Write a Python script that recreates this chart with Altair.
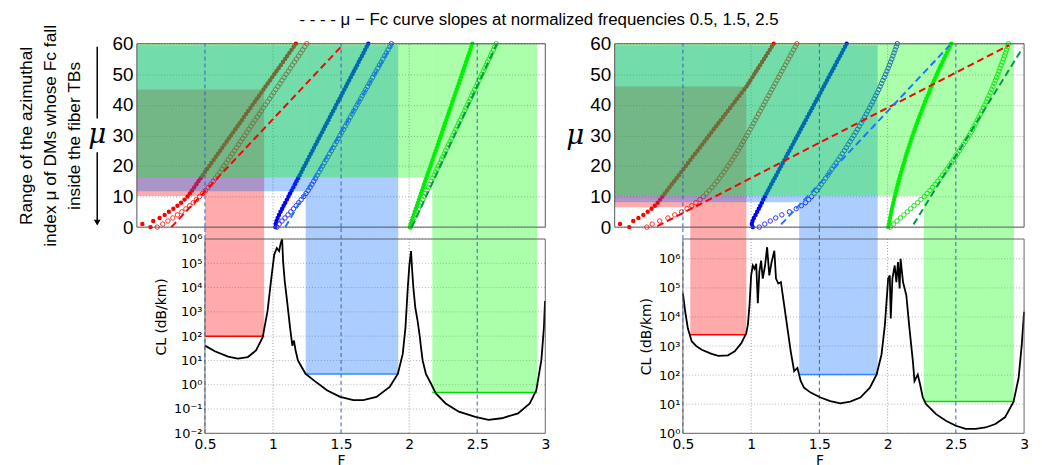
import altair as alt
import pandas as pd

MU = list(range(61))

# ---------------- mu - F curves (F value for mu = 0..60) ----------------
L_RED_FILLED = [0.100, 0.040, 0.120, 0.167, 0.204, 0.235, 0.268, 0.298, 0.325, 0.350, 0.373, 0.389, 0.405, 0.421, 0.437, 0.452, 0.468, 0.484, 0.500, 0.516, 0.532, 0.548, 0.564, 0.580, 0.596, 0.612, 0.627, 0.643, 0.659, 0.675, 0.691, 0.707, 0.723, 0.739, 0.755, 0.771, 0.786, 0.802, 0.818, 0.834, 0.850, 0.866, 0.882, 0.898, 0.914, 0.930, 0.945, 0.961, 0.977, 0.993, 1.009, 1.025, 1.041, 1.057, 1.073, 1.089, 1.104, 1.120, 1.136, 1.152, 1.168]
L_RED_OPEN = [0.150, 0.190, 0.228, 0.264, 0.298, 0.330, 0.360, 0.388, 0.414, 0.438, 0.461, 0.483, 0.504, 0.524, 0.543, 0.561, 0.578, 0.594, 0.610, 0.625, 0.640, 0.656, 0.671, 0.686, 0.701, 0.716, 0.732, 0.747, 0.762, 0.777, 0.792, 0.808, 0.823, 0.838, 0.853, 0.868, 0.884, 0.899, 0.914, 0.929, 0.944, 0.960, 0.975, 0.990, 1.005, 1.020, 1.036, 1.051, 1.066, 1.081, 1.096, 1.112, 1.127, 1.142, 1.157, 1.172, 1.188, 1.203, 1.218, 1.233, 1.248]
L_BLUE_FILLED = [1.017, 1.020, 1.026, 1.034, 1.044, 1.055, 1.067, 1.078, 1.090, 1.102, 1.114, 1.125, 1.137, 1.149, 1.161, 1.172, 1.184, 1.196, 1.208, 1.219, 1.231, 1.243, 1.254, 1.266, 1.278, 1.290, 1.301, 1.313, 1.325, 1.336, 1.348, 1.360, 1.372, 1.383, 1.395, 1.407, 1.418, 1.430, 1.442, 1.454, 1.465, 1.477, 1.489, 1.501, 1.512, 1.524, 1.536, 1.547, 1.559, 1.571, 1.583, 1.594, 1.606, 1.618, 1.629, 1.641, 1.653, 1.665, 1.676, 1.688, 1.700]
L_BLUE_OPEN = [1.029, 1.045, 1.066, 1.088, 1.110, 1.131, 1.151, 1.170, 1.189, 1.207, 1.225, 1.242, 1.258, 1.272, 1.286, 1.299, 1.312, 1.325, 1.338, 1.351, 1.364, 1.377, 1.390, 1.403, 1.416, 1.429, 1.442, 1.455, 1.467, 1.480, 1.492, 1.505, 1.518, 1.530, 1.543, 1.555, 1.568, 1.581, 1.593, 1.606, 1.618, 1.631, 1.644, 1.656, 1.669, 1.681, 1.694, 1.707, 1.719, 1.732, 1.744, 1.757, 1.770, 1.782, 1.795, 1.807, 1.820, 1.833, 1.845, 1.858, 1.870]
L_GREEN_FILLED = [2.008, 2.012, 2.018, 2.026, 2.033, 2.041, 2.049, 2.057, 2.064, 2.072, 2.080, 2.087, 2.095, 2.103, 2.110, 2.118, 2.126, 2.134, 2.141, 2.149, 2.157, 2.164, 2.172, 2.180, 2.187, 2.195, 2.203, 2.211, 2.218, 2.226, 2.234, 2.241, 2.249, 2.257, 2.264, 2.272, 2.280, 2.288, 2.295, 2.303, 2.311, 2.318, 2.326, 2.334, 2.341, 2.349, 2.357, 2.365, 2.372, 2.380, 2.388, 2.395, 2.403, 2.411, 2.418, 2.426, 2.434, 2.442, 2.449, 2.457, 2.465]
L_GREEN_OPEN = [2.008, 2.015, 2.025, 2.036, 2.047, 2.057, 2.068, 2.078, 2.089, 2.099, 2.110, 2.121, 2.131, 2.142, 2.152, 2.163, 2.174, 2.184, 2.195, 2.205, 2.216, 2.227, 2.237, 2.248, 2.258, 2.269, 2.280, 2.290, 2.301, 2.311, 2.322, 2.333, 2.343, 2.354, 2.364, 2.375, 2.386, 2.396, 2.407, 2.417, 2.428, 2.439, 2.449, 2.460, 2.470, 2.481, 2.492, 2.502, 2.513, 2.523, 2.534, 2.545, 2.555, 2.566, 2.576, 2.587, 2.598, 2.608, 2.619, 2.629, 2.640]

R_RED_FILLED = [0.107, 0.039, 0.136, 0.174, 0.210, 0.242, 0.270, 0.294, 0.315, 0.333, 0.350, 0.367, 0.384, 0.401, 0.418, 0.436, 0.453, 0.470, 0.487, 0.504, 0.521, 0.538, 0.555, 0.572, 0.589, 0.607, 0.624, 0.641, 0.658, 0.675, 0.692, 0.709, 0.726, 0.743, 0.760, 0.778, 0.795, 0.812, 0.829, 0.846, 0.863, 0.880, 0.897, 0.914, 0.931, 0.949, 0.966, 0.980, 0.994, 1.009, 1.023, 1.037, 1.051, 1.065, 1.080, 1.094, 1.108, 1.122, 1.137, 1.151, 1.165]
R_RED_OPEN = [0.235, 0.275, 0.330, 0.390, 0.440, 0.490, 0.530, 0.565, 0.595, 0.625, 0.650, 0.672, 0.693, 0.713, 0.732, 0.750, 0.767, 0.784, 0.800, 0.816, 0.831, 0.846, 0.861, 0.875, 0.889, 0.903, 0.917, 0.930, 0.943, 0.956, 0.969, 0.981, 0.993, 1.006, 1.018, 1.030, 1.042, 1.054, 1.067, 1.079, 1.091, 1.103, 1.115, 1.128, 1.140, 1.152, 1.164, 1.176, 1.189, 1.201, 1.213, 1.225, 1.237, 1.250, 1.262, 1.274, 1.286, 1.298, 1.311, 1.323, 1.335]
R_BLUE_FILLED = [1.012, 1.005, 1.010, 1.020, 1.032, 1.044, 1.056, 1.067, 1.078, 1.089, 1.100, 1.112, 1.124, 1.136, 1.148, 1.160, 1.172, 1.184, 1.196, 1.208, 1.220, 1.232, 1.244, 1.256, 1.268, 1.280, 1.292, 1.304, 1.316, 1.328, 1.340, 1.352, 1.364, 1.376, 1.388, 1.400, 1.412, 1.424, 1.436, 1.448, 1.460, 1.472, 1.484, 1.496, 1.508, 1.520, 1.532, 1.544, 1.556, 1.568, 1.580, 1.592, 1.604, 1.616, 1.628, 1.640, 1.652, 1.664, 1.676, 1.688, 1.700]
R_BLUE_OPEN = [1.060, 1.100, 1.140, 1.180, 1.225, 1.280, 1.330, 1.368, 1.398, 1.422, 1.443, 1.462, 1.480, 1.497, 1.514, 1.530, 1.546, 1.562, 1.577, 1.592, 1.607, 1.623, 1.638, 1.653, 1.668, 1.683, 1.697, 1.711, 1.725, 1.739, 1.753, 1.767, 1.780, 1.793, 1.806, 1.819, 1.831, 1.843, 1.855, 1.867, 1.879, 1.891, 1.902, 1.913, 1.924, 1.935, 1.945, 1.955, 1.965, 1.975, 1.985, 1.995, 2.004, 2.013, 2.022, 2.031, 2.039, 2.047, 2.055, 2.063, 2.071]
R_GREEN_FILLED = [2.005, 2.009, 2.014, 2.018, 2.023, 2.027, 2.032, 2.037, 2.042, 2.048, 2.053, 2.058, 2.064, 2.069, 2.075, 2.081, 2.087, 2.093, 2.099, 2.106, 2.112, 2.119, 2.126, 2.132, 2.139, 2.146, 2.154, 2.161, 2.168, 2.176, 2.183, 2.191, 2.199, 2.207, 2.215, 2.223, 2.232, 2.240, 2.249, 2.257, 2.266, 2.275, 2.284, 2.293, 2.303, 2.312, 2.322, 2.331, 2.341, 2.351, 2.361, 2.371, 2.381, 2.391, 2.402, 2.412, 2.423, 2.434, 2.445, 2.456, 2.467]
R_GREEN_OPEN = [2.019, 2.044, 2.069, 2.094, 2.119, 2.144, 2.169, 2.194, 2.219, 2.244, 2.269, 2.290, 2.310, 2.330, 2.349, 2.368, 2.386, 2.403, 2.420, 2.436, 2.452, 2.467, 2.482, 2.497, 2.511, 2.526, 2.540, 2.555, 2.569, 2.583, 2.597, 2.610, 2.622, 2.634, 2.646, 2.658, 2.669, 2.680, 2.691, 2.702, 2.713, 2.723, 2.733, 2.743, 2.753, 2.763, 2.772, 2.781, 2.790, 2.799, 2.808, 2.816, 2.824, 2.832, 2.840, 2.848, 2.856, 2.864, 2.871, 2.878, 2.886]

# tangent (slope) lines: start / end points
L_TAN_F0 = [0.253, 1.09, 2.02]
L_TAN_MU0 = [0.0, 0.0, 0.0]
L_TAN_F1 = [1.508, 1.88, 2.645]
L_TAN_MU1 = [59.4, 60.0, 60.0]
R_TAN_F0 = [0.312, 1.22, 2.19]
R_TAN_MU0 = [0.3, 0.9, 0.9]
R_TAN_F1 = [2.89, 2.455, 2.99]
R_TAN_MU1 = [59.5, 59.5, 58.7]

# transmission bands
L_BAND_LO = [0.5, 1.24, 2.17]
L_BAND_HI = [0.935, 1.92, 2.94]
L_MU_LO = [10.2, 11.7, 16.2]
L_MU_HI = [45.0, 59.5, 60.0]
L_CL_LEVEL = [100.0, 2.75, 0.48]

R_BAND_LO = [0.554, 1.352, 2.265]
R_BAND_HI = [0.965, 1.927, 2.925]
R_MU_LO = [6.5, 8.1, 10.2]
R_MU_HI = [46.0, 59.5, 60.0]
R_CL_LEVEL = [2450.0, 105.0, 12.3]

# confinement loss curves (log10 of dB/km)
L_CL_F = [0.5, 0.573, 0.67, 0.742, 0.815, 0.875, 0.924, 0.96, 0.985, 1.009, 1.028, 1.045, 1.057, 1.067, 1.074, 1.086, 1.106, 1.125, 1.142, 1.154, 1.166, 1.183, 1.203, 1.239, 1.30, 1.396, 1.493, 1.59, 1.663, 1.76, 1.857, 1.917, 1.953, 1.973, 1.99, 2.002, 2.014, 2.021, 2.031, 2.045, 2.062, 2.079, 2.087, 2.099, 2.123, 2.16, 2.196, 2.268, 2.365, 2.486, 2.583, 2.68, 2.80, 2.886, 2.934, 2.971, 2.99, 2.998]
L_CL_LOG10 = [1.61, 1.38, 1.16, 1.08, 1.14, 1.41, 1.95, 3.04, 4.27, 5.36, 5.63, 5.50, 5.84, 6.0, 5.09, 4.27, 3.32, 2.36, 1.61, 1.82, 1.41, 1.0, 0.80, 0.45, 0.18, -0.23, -0.50, -0.63, -0.63, -0.50, -0.09, 0.45, 1.27, 2.36, 4.0, 4.95, 5.50, 4.81, 4.0, 3.18, 2.63, 1.95, 1.54, 1.0, 0.45, 0.05, -0.36, -0.77, -1.11, -1.32, -1.45, -1.38, -1.18, -0.77, -0.23, 1.0, 2.36, 3.45]
R_CL_F = [0.5, 0.517, 0.536, 0.565, 0.60, 0.638, 0.71, 0.76, 0.83, 0.88, 0.928, 0.964, 0.976, 0.988, 1.0, 1.012, 1.025, 1.037, 1.049, 1.06, 1.073, 1.085, 1.102, 1.117, 1.133, 1.15, 1.17, 1.182, 1.199, 1.218, 1.242, 1.266, 1.29, 1.315, 1.339, 1.363, 1.387, 1.436, 1.508, 1.58, 1.653, 1.726, 1.80, 1.87, 1.919, 1.955, 1.98, 2.004, 2.016, 2.023, 2.035, 2.052, 2.064, 2.076, 2.088, 2.095, 2.113, 2.137, 2.16, 2.185, 2.197, 2.221, 2.238, 2.258, 2.282, 2.355, 2.427, 2.50, 2.572, 2.645, 2.717, 2.79, 2.86, 2.923, 2.96, 2.983, 3.0]
R_CL_LOG10 = [4.81, 4.18, 3.61, 3.16, 2.99, 2.875, 2.73, 2.66, 2.68, 2.82, 3.10, 3.44, 3.73, 4.41, 5.43, 5.77, 5.66, 5.83, 4.47, 5.55, 5.94, 5.32, 5.77, 6.40, 5.43, 5.89, 6.28, 5.32, 5.15, 5.20, 4.41, 3.61, 2.82, 2.14, 2.25, 1.80, 1.57, 1.40, 1.23, 1.11, 1.03, 1.09, 1.23, 1.57, 2.02, 2.70, 3.73, 5.32, 5.43, 3.95, 5.32, 5.77, 5.20, 5.89, 4.98, 6.0, 5.20, 4.75, 3.61, 2.48, 1.80, 2.02, 1.68, 1.23, 1.0, 0.66, 0.43, 0.26, 0.15, 0.15, 0.20, 0.32, 0.55, 1.09, 1.91, 3.05, 4.18]

GRID_F = [1.0, 2.0]
VLINE_F = [0.5, 1.5, 2.5]
MU_TICKS = [0, 10, 20, 30, 40, 50, 60]
L_DECADES = [1e-2, 1e-1, 1e0, 1e1, 1e2, 1e3, 1e4, 1e5, 1e6]
R_DECADES = [1e0, 1e1, 1e2, 1e3, 1e4, 1e5, 1e6]
F_TICKS = [0.5, 1, 1.5, 2, 2.5, 3]

SERIES = ["TB1", "TB2", "TB3"]
FILLED_COLORS = ["#ff0000", "#0000ff", "#00ee00"]
OPEN_COLORS = ["#ff3030", "#3030ff", "#22dd22"]
TAN_COLORS = ["#ff0000", "#1a78ff", "#009a4a"]
BAND_COLORS = ["#ff0000", "#0066ff", "#00ff00"]
LEVEL_COLORS = ["#ff0000", "#3388ff", "#00dd00"]
BAND_OPACITY = 0.33
FONT = "Liberation Sans"
AXFONT = "DejaVu Sans"
GAP = 12
TOP_W, TOP_H, BOT_H = 412, 185, 196

SUP = ("'10' + (datum.value < 0.9 ? '⁻' : '') + "
       "['⁰','¹','²','³','⁴','⁵','⁶','⁷','⁸','⁹'][round(abs(log(datum.value)/LN10))]")


def cscale(rng):
    return alt.Scale(domain=SERIES, range=rng)


def top_panel(filled, opened, tan, lo, hi, mulo, muhi, width, yaxis, extras=()):
    xs = alt.Scale(domain=[0, 3], nice=False, zero=False)
    ys = alt.Scale(domain=[0, 60], nice=False, zero=False)

    def X(f):
        return alt.X(f, type="quantitative", scale=xs, axis=None)

    def Y(f):
        return alt.Y(f, type="quantitative", scale=ys, axis=yaxis)

    fill_rows, open_rows = [], []
    for s, fl, op in zip(SERIES, filled, opened):
        fill_rows += [dict(F=f, mu=m, series=s) for m, f in zip(MU, fl)]
        open_rows += [dict(F=f, mu=m, series=s) for m, f in zip(MU, op)]
    rect_rows = []
    for s, a, b, m0, m1 in zip(SERIES, lo, hi, mulo, muhi):
        rect_rows.append(dict(x1=0.0, x2=a, y1=m0, y2=m1, series=s))
        rect_rows.append(dict(x1=a, x2=b, y1=0.0, y2=m1, series=s))
    tan_df = pd.DataFrame(dict(F0=tan[0], mu0=tan[1], F1=tan[2], mu1=tan[3], series=SERIES))

    grid_v = alt.Chart(pd.DataFrame({"F": GRID_F, "m": [0.0, 0.0], "n": [60.0, 60.0]})).mark_rule(
        color="#9a9a9a", strokeDash=[1, 2], strokeWidth=1).encode(x=X("F"), y=Y("m"), y2="n")
    pts_f = alt.Chart(pd.DataFrame(fill_rows)).mark_circle(size=20, opacity=1).encode(
        x=X("F"), y=Y("mu"),
        color=alt.Color("series:N", scale=cscale(FILLED_COLORS), legend=None))
    pts_o = alt.Chart(pd.DataFrame(open_rows)).mark_point(
        shape="circle", filled=False, size=20, strokeWidth=1, opacity=1).encode(
        x=X("F"), y=Y("mu"),
        color=alt.Color("series:N", scale=cscale(OPEN_COLORS), legend=None))
    rects = alt.Chart(pd.DataFrame(rect_rows)).mark_rect(opacity=BAND_OPACITY).encode(
        x=X("x1"), x2="x2", y=Y("y1"), y2="y2",
        color=alt.Color("series:N", scale=cscale(BAND_COLORS), legend=None))
    vl = alt.Chart(pd.DataFrame({"F": VLINE_F, "m": [0.0] * 3, "n": [60.0] * 3})).mark_rule(
        color="#3a5bc7", strokeDash=[4, 3], strokeWidth=1).encode(x=X("F"), y=Y("m"), y2="n")
    tl = alt.Chart(tan_df).mark_rule(strokeDash=[7, 4], strokeWidth=2).encode(
        x=X("F0"), y=Y("mu0"), x2="F1", y2="mu1",
        color=alt.Color("series:N", scale=cscale(TAN_COLORS), legend=None))
    frame = alt.Chart(pd.DataFrame({"a": [0.0], "b": [3.0], "c": [0.0], "d": [60.0]})).mark_rect(
        fillOpacity=0, stroke="#555555", strokeWidth=1).encode(x=X("a"), x2="b", y=Y("c"), y2="d")
    layers = [grid_v, pts_f, pts_o, rects, vl, tl, frame] + [e(X, Y) for e in extras]
    return alt.layer(*layers).resolve_scale(color="independent").properties(
        width=width, height=TOP_H)


def bottom_panel(cl_f, cl_log, lo, hi, level, ydomain, decades, width, title_y):
    xs = alt.Scale(domain=[0, 3], nice=False, zero=False)
    ys = alt.Scale(type="log", domain=ydomain, nice=False)
    offset = -width * 0.5 / 3.0

    xaxis = alt.Axis(values=F_TICKS, labelExpr="'' + datum.value", title="F",
                     domain=False, ticks=False, grid=False, labelFlush=False,
                     labelFont=AXFONT, labelFontSize=14, labelColor="black", labelPadding=4,
                     titleFont=AXFONT, titleFontSize=14, titleFontWeight="normal",
                     titleColor="black", titlePadding=2)
    yaxis = alt.Axis(values=decades, labelExpr=SUP, offset=offset, title="CL (dB/km)",
                     domain=False, ticks=False, grid=False, labelOverlap=False,
                     labelFont=AXFONT, labelFontSize=13, labelColor="black", labelPadding=3,
                     titleFont=AXFONT, titleFontSize=14, titleFontWeight="normal",
                     titleColor="black", titlePadding=5, titleY=title_y)

    def X(f):
        return alt.X(f, type="quantitative", scale=xs, axis=xaxis)

    def Y(f):
        return alt.Y(f, type="quantitative", scale=ys, axis=yaxis)

    band_df = pd.DataFrame(dict(lo=lo, hi=hi, level=level, series=SERIES))
    hgrid = alt.Chart(pd.DataFrame({"v": decades, "a": [0.5] * len(decades),
                                    "b": [3.0] * len(decades)})).mark_rule(
        color="#b5b5b5", strokeDash=[1, 2], strokeWidth=1).encode(x=X("a"), x2="b", y=Y("v"))
    vgrid = alt.Chart(pd.DataFrame({"F": GRID_F, "m": [ydomain[0]] * 2, "n": [ydomain[1]] * 2})).mark_rule(
        color="#9a9a9a", strokeDash=[1, 2], strokeWidth=1).encode(x=X("F"), y=Y("m"), y2="n")
    bands = alt.Chart(band_df).mark_rect(opacity=BAND_OPACITY).encode(
        x=X("lo"), x2="hi", y=Y("level"), y2=alt.value(-GAP),
        color=alt.Color("series:N", scale=cscale(BAND_COLORS), legend=None))
    levels = alt.Chart(band_df).mark_rule(strokeWidth=1.5).encode(
        x=X("lo"), x2="hi", y=Y("level"),
        color=alt.Color("series:N", scale=cscale(LEVEL_COLORS), legend=None))
    vl = alt.Chart(pd.DataFrame({"F": VLINE_F, "m": [ydomain[0]] * 3})).mark_rule(
        color="#3a5bc7", strokeDash=[4, 3], strokeWidth=1).encode(
        x=X("F"), y=Y("m"), y2=alt.value(-GAP))
    cl_df = pd.DataFrame({"F": cl_f, "CL": [10 ** v for v in cl_log]})
    curve = alt.Chart(cl_df).mark_line(color="black", strokeWidth=1.8).encode(
        x=X("F"), y=Y("CL"))
    frame = alt.Chart(pd.DataFrame({"a": [0.5], "b": [3.0], "c": [ydomain[0]], "d": [ydomain[1]]})).mark_rect(
        fillOpacity=0, stroke="#666666", strokeWidth=1).encode(x=X("a"), x2="b", y=Y("c"), y2="d")
    return alt.layer(hgrid, vgrid, bands, levels, vl, curve, frame).resolve_scale(
        color="independent").properties(width=width, height=BOT_H)


# annotation for the left panel: arrow with mu
ARROW_MU0 = [59.0, 24.5]
ARROW_MU1 = [35.5, 2.0]


def arrow_lines(X, Y):
    return alt.Chart(pd.DataFrame({"a": ARROW_MU0, "b": ARROW_MU1})).mark_rule(
        color="black", strokeWidth=1.5).encode(x=alt.value(-40), y=Y("a"), y2="b")


def arrow_head(X, Y):
    return alt.Chart(pd.DataFrame({"m": [1.5]})).mark_point(
        shape="triangle-down", filled=True, color="black", size=45, opacity=1).encode(
        x=alt.value(-40), y=Y("m"))


def arrow_mu(X, Y):
    return alt.Chart(pd.DataFrame({"m": [30.0], "t": ["μ"]})).mark_text(
        font="DejaVu Serif", fontStyle="italic", fontSize=28, color="black").encode(
        x=alt.value(-40), y=Y("m"), text="t:N")


yaxis_L = alt.Axis(values=MU_TICKS, grid=True, gridColor="#a8a8a8", gridDash=[1, 2],
                   domain=False, ticks=False, labelFont=FONT, labelFontSize=19,
                   labelColor="black", labelPadding=4,
                   title=["Range of the azimuthal", "index μ of DMs whose Fc fall",
                          "inside the fiber TBs"],
                   titleFont=FONT, titleFontSize=17.5, titleFontWeight="normal",
                   titleColor="black", titlePadding=29, titleLineHeight=24)
yaxis_R = alt.Axis(values=MU_TICKS, grid=True, gridColor="#a8a8a8", gridDash=[1, 2],
                   domain=False, ticks=False, labelFont=FONT, labelFontSize=19,
                   labelColor="black", labelPadding=4,
                   title="μ", titleAngle=0, titleAlign="right", titleBaseline="middle",
                   titleFont="DejaVu Serif", titleFontStyle="italic", titleFontSize=28,
                   titleFontWeight="normal", titleColor="black", titlePadding=6)

topL = top_panel([L_RED_FILLED, L_BLUE_FILLED, L_GREEN_FILLED],
                 [L_RED_OPEN, L_BLUE_OPEN, L_GREEN_OPEN],
                 [L_TAN_F0, L_TAN_MU0, L_TAN_F1, L_TAN_MU1],
                 L_BAND_LO, L_BAND_HI, L_MU_LO, L_MU_HI, TOP_W, yaxis_L,
                 extras=(arrow_lines, arrow_head, arrow_mu))
topR = top_panel([R_RED_FILLED, R_BLUE_FILLED, R_GREEN_FILLED],
                 [R_RED_OPEN, R_BLUE_OPEN, R_GREEN_OPEN],
                 [R_TAN_F0, R_TAN_MU0, R_TAN_F1, R_TAN_MU1],
                 R_BAND_LO, R_BAND_HI, R_MU_LO, R_MU_HI, TOP_W + 1, yaxis_R)

botL = bottom_panel(L_CL_F, L_CL_LOG10, L_BAND_LO, L_BAND_HI, L_CL_LEVEL,
                    [1e-2, 1e6], L_DECADES, TOP_W, 78)
botR = bottom_panel(R_CL_F, R_CL_LOG10, R_BAND_LO, R_BAND_HI, R_CL_LEVEL,
                    [1.0, 4.8e6], R_DECADES, TOP_W + 1, 98)

left_col = alt.vconcat(topL, botL, spacing=GAP, bounds="flush")
right_col = alt.vconcat(topR, botR, spacing=GAP, bounds="flush")

chart = alt.hconcat(
    left_col, right_col, spacing=15,
    title=alt.TitleParams(
        text="- - - -  μ − Fc curve slopes at normalized frequencies 0.5, 1.5, 2.5",
        font=FONT, fontSize=17, fontWeight="normal", color="black",
        anchor="middle", offset=-5, dx=16),
).properties(
    padding={"left": 9, "top": 1, "right": 5, "bottom": 5}
).configure_view(stroke=None)

chart.save("out.html", embed_options={"renderer": "svg", "actions": False})
